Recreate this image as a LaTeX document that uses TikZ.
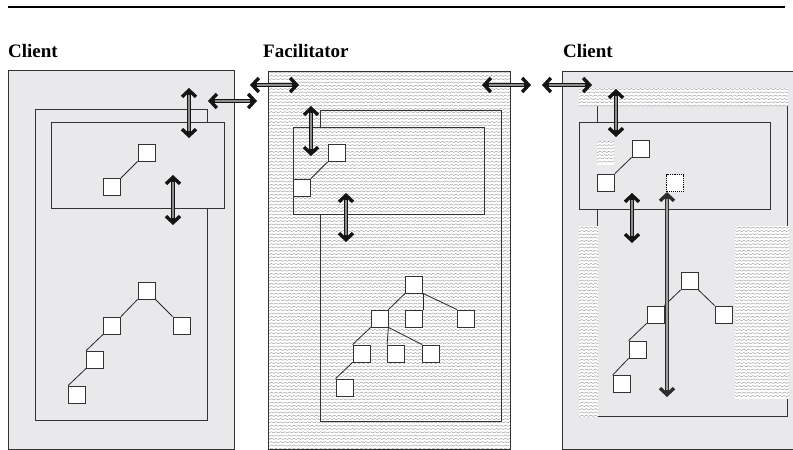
\documentclass[tikz,border=0pt]{standalone}
\usepackage{fontspec}
\setmainfont{Liberation Serif}
\usetikzlibrary{arrows.meta,decorations.pathmorphing}

\definecolor{panel}{RGB}{233,233,235}
\definecolor{edge}{RGB}{50,50,50}

\tikzset{
  frame/.style={draw=edge, line width=0.9pt},
  sq/.style={draw=edge, fill=white, line width=0.8pt, minimum size=17pt, inner sep=0pt},
  dsq/.style={draw=black, fill=white, line width=1.1pt, densely dotted, minimum size=17pt, inner sep=0pt},
  link/.style={draw=black!85, line width=0.8pt},
  wavyline/.style={draw=black!44, line width=0.35pt, decorate,
    decoration={snake, amplitude=0.6pt, segment length=4.5pt}},
  barb/.tip={Straight Barb[length=6.5pt, width=14pt, line width=3.4pt]},
  arrout/.style={draw=black!92, line width=4.8pt, barb-barb},
  arrin/.style={draw=black!45, line width=1.8pt, shorten <=7pt, shorten >=7pt},
  longout/.style={draw=black!82, line width=3.4pt, barb-barb},
  longin/.style={draw=black!38, line width=1.5pt, shorten <=7pt, shorten >=7pt},
  title/.style={anchor=base west, inner sep=0pt, font=\fontsize{19}{22}\selectfont\bfseries},
}

% fills a rectangle with fine gray wavy lines, phase-locked to a global grid
\newcommand\wavybox[4]{%
  \begin{scope}
    \clip (#1,#2) rectangle (#3,#4);
    \fill[white] (#1,#2) rectangle (#3,#4);
    \pgfmathsetmacro\wxs{4.5*floor(#1/4.5)}
    \pgfmathsetmacro\wys{3.3*floor(#2/3.3)}
    \pgfmathsetmacro\wyn{\wys+3.3}
    \pgfmathsetmacro\wxe{#3+6}
    \foreach \wy in {\wys,\wyn,...,#4} \draw[wavyline] (\wxs,\wy) -- (\wxe,\wy);
  \end{scope}}

\begin{document}
\begin{tikzpicture}[x=1pt, y=-1pt]
\useasboundingbox (0,0) rectangle (793,450);
\clip (0,0) rectangle (793,450);
\fill[white] (0,0) rectangle (793,450);

% rule across the top
\draw[black, line width=2.3pt] (8,7) -- (785,7);

% headings
\node[title] (hc1) at (8,57) {Client};
\node[title] (hf) at (263,57) {Facilitator};
\node[title] (hc2) at (563,57) {Client};

% ---------- left client ----------
\fill[panel] (8,70) rectangle (234,449);
\draw[frame] (8,70) rectangle (234,449);
\draw[frame] (35,109) rectangle (207,420);
\fill[panel] (51,122) rectangle (224,208);
\draw[frame] (51,122) rectangle (224,208);

\node[sq] (l1) at (112,187) {};
\node[sq] (l2) at (146.5,152.5) {};
\draw[link] (l1.north east) -- (l2.south west);

\node[sq] (t0) at (146.5,290.5) {};
\node[sq] (t1) at (112,325.5) {};
\node[sq] (t2) at (181.5,325.5) {};
\node[sq] (t3) at (95,359.5) {};
\node[sq] (t4) at (77,394.5) {};
\draw[link] (t0.south west) -- (t1.north east);
\draw[link] (t0.south east) -- (t2.north west);
\draw[link] (t1.south west) -- (t3.north west);
\draw[link] (t3.south west) -- (t4.north west);

% ---------- facilitator ----------
\wavybox{268}{71}{510}{449}
\draw[frame] (268,71) rectangle (510,449);
\draw[frame] (320,110) rectangle (501,421);
\wavybox{293}{127}{484}{214}
\draw[frame] (293,127) rectangle (484,214);

\node[sq] (f1) at (302,187.5) {};
\node[sq] (f2) at (336.5,153) {};
\draw[link] (f1.north east) -- (f2.south west);

\node[sq] (g0) at (414,284.5) {};
\node[sq] (ga) at (379.5,318.5) {};
\node[sq] (gb) at (414,318.5) {};
\node[sq] (gc) at (466,318.5) {};
\node[sq] (gd) at (361.5,353.5) {};
\node[sq] (ge) at (396,353.5) {};
\node[sq] (gf) at (431,353.5) {};
\node[sq] (gg) at (344.5,387.5) {};
\draw[link] (g0.south west) -- (ga.north east);
\draw[link] (g0.south east) -- (gb.north east);
\draw[link] (g0.south east) -- (gc.north west);
\draw[link] (ga.south west) -- (gd.north west);
\draw[link] (ga.south east) -- (ge.north west);
\draw[link] (ga.south east) -- (gf.north west);
\draw[link] (gd.south west) -- (gg.north west);

% ---------- right client ----------
\fill[panel] (562,71) rectangle (800,449);
\draw[frame] (800,71) -- (562,71) -- (562,449) -- (800,449);
\draw[frame] (597,96) rectangle (787,416);
\wavybox{579}{88}{788}{106}
\wavybox{579}{226}{598}{417}
\wavybox{735}{226}{789}{399}
\fill[panel] (579,122) rectangle (770,209);
\draw[frame] (579,122) rectangle (770,209);
\wavybox{597}{141}{614}{165}

\node[sq] (r1) at (606,182.5) {};
\node[sq] (r2) at (640.5,148.5) {};
\draw[link] (r1.north east) -- (r2.south west);
\node[dsq] (dq) at (675,183) {};

\node[sq] (h0) at (689.5,281) {};
\node[sq] (h1) at (655.5,314.5) {};
\node[sq] (h2) at (723.5,314.5) {};
\node[sq] (h3) at (637.5,349.5) {};
\node[sq] (h4) at (621.5,384) {};
\draw[link] (h0.south west) -- (h1.north east);
\draw[link] (h0.south east) -- (h2.north west);
\draw[link] (h1.south west) -- (h3.north west);
\draw[link] (h3.south west) -- (h4.north west);

% ---------- transfer arrows ----------
\coordinate (a1s) at (189,88);  \coordinate (a1e) at (189,138);
\coordinate (a2s) at (173,175); \coordinate (a2e) at (173,225);
\coordinate (b1s) at (208,101); \coordinate (b1e) at (257,101);
\coordinate (b2s) at (250,85);  \coordinate (b2e) at (299,85);
\coordinate (a3s) at (311,106); \coordinate (a3e) at (311,156);
\coordinate (a4s) at (346,193); \coordinate (a4e) at (346,242);
\coordinate (b3s) at (482,85);  \coordinate (b3e) at (531,85);
\coordinate (b4s) at (542,85);  \coordinate (b4e) at (592,85);
\coordinate (a5s) at (616,89);  \coordinate (a5e) at (616,137);
\coordinate (a6s) at (632,193); \coordinate (a6e) at (632,243);
\coordinate (lt) at ([xshift=-8pt]dq.south); \coordinate (lb) at (667,397);

\foreach \s/\e in {a1s/a1e, a2s/a2e, b1s/b1e, b2s/b2e, a3s/a3e, a4s/a4e,
                   b3s/b3e, b4s/b4e, a5s/a5e, a6s/a6e} {
  \draw[arrout] (\s) -- (\e);
  \draw[arrin] (\s) -- (\e);
}
\draw[longout] (lt) -- (lb);
\draw[longin] (lt) -- (lb);
\end{tikzpicture}
\end{document}
